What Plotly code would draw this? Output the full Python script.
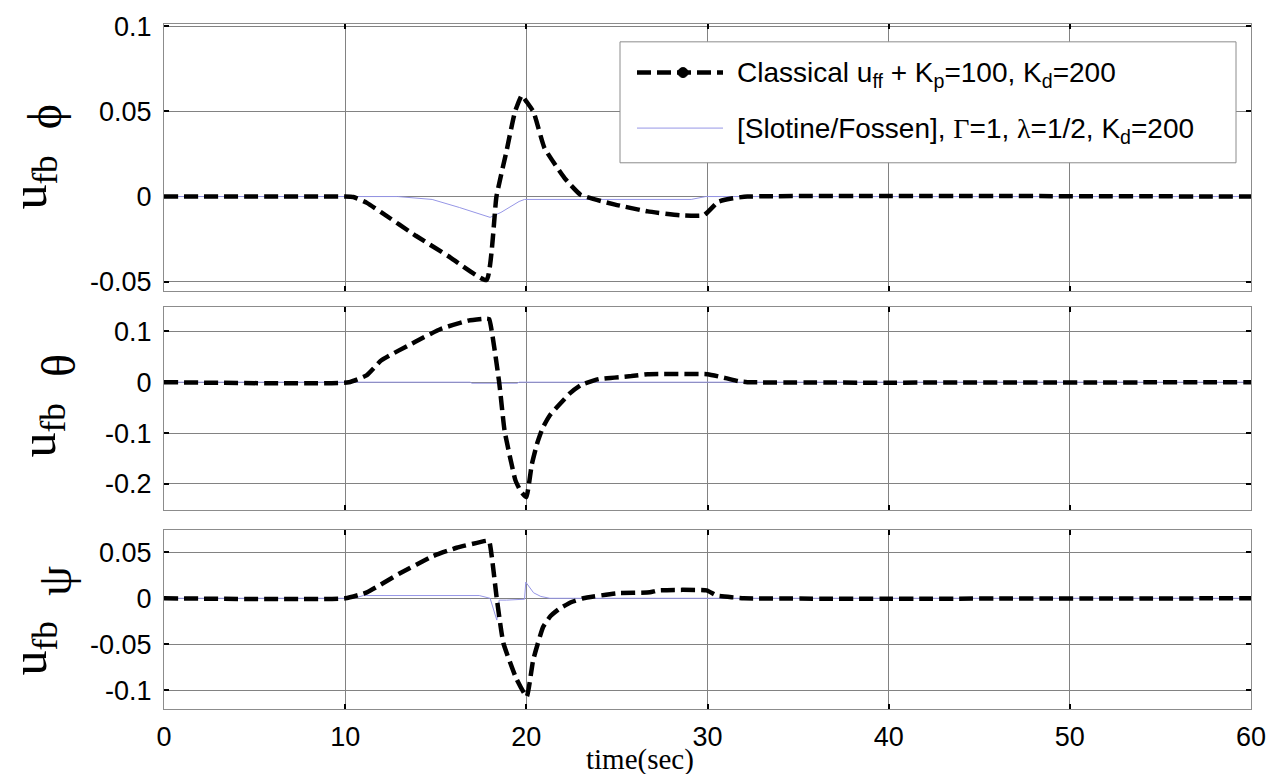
import plotly.graph_objects as go

# ---- time histories of the feedback control effort ----
# roll channel (phi)
t_phi_classical = [0, 10.0, 10.45, 11.2, 12.0, 13.9, 15.7, 17.8, 18.35, 18.9, 19.37, 19.75,
                   20.0, 20.4, 21.0, 22.1, 23.0, 24.9, 26.7, 28.5, 29.8, 30.6, 31.4, 32.2, 60]
u_phi_classical = [0, 0, -0.0003, -0.0037, -0.0093, -0.023, -0.035, -0.049, 0.0, 0.0264, 0.0496, 0.0593,
                   0.0558, 0.0496, 0.0285, 0.011, 0.001, -0.0047, -0.0087, -0.011, -0.011, -0.003, -0.001, 0, 0]
t_phi_slotine = [0, 12.9, 14.8, 16.3, 18.0, 18.6, 19.6, 19.9, 29.1, 29.9, 60]
u_phi_slotine = [0, 0, -0.0017, -0.0064, -0.0122, -0.0093, -0.0029, -0.0017, -0.0017, 0, 0]

# pitch channel (theta)
t_theta_classical = [0, 10.2, 11.2, 12.0, 13.9, 15.3, 16.8, 17.8, 17.95, 18.5, 18.8, 19.4, 19.7, 20.0,
                     20.3, 20.6, 20.9, 21.3, 21.8, 22.4, 23.0, 24.0, 25.8, 26.7, 30.0, 31.0, 31.7, 32.2, 60]
u_theta_classical = [0, 0, 0.014, 0.043, 0.080, 0.105, 0.121, 0.125, 0.124, 0.0, -0.0955, -0.193, -0.215, -0.226,
                     -0.162, -0.120, -0.090, -0.065, -0.045, -0.022, -0.006, 0.006, 0.012, 0.0156, 0.0156,
                     0.008, 0.002, 0, 0]
t_theta_slotine = [0, 16.9, 17.0, 19.5, 19.6, 60]
u_theta_slotine = [0, 0, -0.002, -0.002, 0, 0]

# yaw channel (psi)
t_psi_classical = [0, 10.0, 11.2, 13.0, 14.86, 16.15, 17.8, 17.95, 18.36, 18.73, 19.46, 20.02,
                   20.38, 20.93, 21.35, 21.85, 22.5, 23.14, 24.98, 26.82, 27.28, 29.95, 30.5, 31.42, 32.0, 60]
u_psi_classical = [0, 0, 0.0065, 0.027, 0.046, 0.055, 0.0626, 0.062, 0.001, -0.0485, -0.088, -0.107,
                   -0.067, -0.031, -0.019, -0.011, -0.004, 0, 0.0054, 0.0065, 0.0086, 0.0086, 0.003, 0.001, 0, 0]
t_psi_slotine = [0, 10.5, 11.0, 17.4, 18.0, 18.37, 18.5, 18.9, 19.9, 19.97, 20.4, 20.8, 21.3, 60]
u_psi_slotine = [0, 0, 0.003, 0.003, 0.0, -0.0237, -0.002, -0.002, -0.001, 0.0176, 0.006, 0.002, 0, 0]

# ---- axis ticks ----
x_ticks = [0, 10, 20, 30, 40, 50, 60]
x_ticktext = ["0", "10", "20", "30", "40", "50", "60"]
phi_ticks = [-0.05, 0, 0.05, 0.1]
phi_ticktext = ["-0.05", "0", "0.05", "0.1"]
theta_ticks = [-0.2, -0.1, 0, 0.1]
theta_ticktext = ["-0.2", "-0.1", "0", "0.1"]
psi_ticks = [-0.1, -0.05, 0, 0.05]
psi_ticktext = ["-0.1", "-0.05", "0", "0.05"]

SERIF = "Liberation Serif, Times New Roman, serif"
legend_classical = "Classical u<sub>ff</sub> + K<sub>p</sub>=100, K<sub>d</sub>=200"
legend_slotine = ('[Slotine/Fossen], <span style="font-family:Liberation Serif">Γ</span>=1, '
                  '<span style="font-family:Liberation Serif">λ</span>=1/2, K<sub>d</sub>=200')

# ---- page geometry ----
W, H = 1279, 774
ML, MR, MT, MB = 164, 28, 18, 65
PW, PH = W - ML - MR, H - MT - MB


def px_x(px):
    return (px - ML) / PW


def px_y(py):
    return (H - MB - py) / PH


BLACK_DASH = dict(color="black", width=4.5, dash="14px,6px")
SLOTINE = dict(color="rgb(150,150,230)", width=1)

fig = go.Figure()
panels = [
    ("x", "y", t_phi_classical, u_phi_classical, t_phi_slotine, u_phi_slotine),
    ("x2", "y2", t_theta_classical, u_theta_classical, t_theta_slotine, u_theta_slotine),
    ("x3", "y3", t_psi_classical, u_psi_classical, t_psi_slotine, u_psi_slotine),
]
for xa, ya, tc, uc, ts, us in panels:
    fig.add_trace(go.Scatter(x=ts, y=us, mode="lines", line=SLOTINE,
                             xaxis=xa, yaxis=ya, showlegend=False, hoverinfo="skip"))
    fig.add_trace(go.Scatter(x=tc, y=uc, mode="lines", line=BLACK_DASH, line_shape="spline",
                             line_smoothing=0.4,
                             xaxis=xa, yaxis=ya, showlegend=False, hoverinfo="skip"))

TICKFONT = dict(family="Liberation Sans, Arial, sans-serif", size=27, color="black")
GRID = "rgb(130,130,130)"
common_axis = dict(showgrid=True, gridcolor=GRID, gridwidth=1, zeroline=False,
                   showline=True, linecolor="rgb(140,140,140)", linewidth=1,
                   mirror="ticks", ticks="inside", ticklen=5, tickwidth=2,
                   tickcolor="black", tickfont=TICKFONT)

# panel domains in paper units (pixel rows of each box)
dom1 = [px_y(287), px_y(18)]
dom2 = [px_y(508), px_y(303)]
dom3 = [px_y(709), px_y(528)]

xaxis_common = dict(range=[0, 60], tickvals=x_ticks, ticktext=x_ticktext, domain=[0, 1], **common_axis)

fig.update_layout(
    width=W, height=H,
    margin=dict(l=ML, r=MR, t=MT, b=MB),
    paper_bgcolor="white", plot_bgcolor="white",
    showlegend=False,
    xaxis=dict(anchor="y", showticklabels=False, **xaxis_common),
    xaxis2=dict(anchor="y2", matches="x", showticklabels=False, **xaxis_common),
    xaxis3=dict(anchor="y3", matches="x", showticklabels=True, ticklabelstandoff=4, **xaxis_common),
    yaxis=dict(anchor="x", domain=dom1, range=[-0.0552, 0.1012],
               tickvals=phi_ticks, ticktext=phi_ticktext, ticklabelstandoff=6, **common_axis),
    yaxis2=dict(anchor="x2", domain=dom2, range=[-0.2507, 0.1487],
                tickvals=theta_ticks, ticktext=theta_ticktext, ticklabelstandoff=6, **common_axis),
    yaxis3=dict(anchor="x3", domain=dom3, range=[-0.1205, 0.0748],
                tickvals=psi_ticks, ticktext=psi_ticktext, ticklabelstandoff=6, **common_axis),
)

# ---- axis titles: "u_fb" and the channel's Greek letter ----
ylabels = [
    # (greek, u-box centre px, greek centre px)
    ("ϕ", (33, 178), (44, 112)),
    ("θ", (42, 428), (58, 363)),
    ("ψ", (33, 648), (54, 580)),
]
annotations = []
for greek, (ux, uy), (gx, gy) in ylabels:
    annotations.append(dict(text="u<sub>fb</sub>", xref="paper", yref="paper", x=px_x(ux), y=px_y(uy),
                            xanchor="center", yanchor="middle", textangle=-90, showarrow=False,
                            font=dict(family=SERIF, size=50, color="black")))
    annotations.append(dict(text=greek, xref="paper", yref="paper", x=px_x(gx), y=px_y(gy),
                            xanchor="center", yanchor="middle", textangle=-90, showarrow=False,
                            font=dict(family=SERIF, size=48, color="black")))
annotations.append(dict(text="time(sec)", xref="paper", yref="paper", x=px_x(640), y=px_y(760),
                        xanchor="center", yanchor="middle", showarrow=False,
                        font=dict(family=SERIF, size=29, color="black")))

# ---- legend box ----
LEGFONT = dict(family="Liberation Sans, Arial, sans-serif", size=28, color="black")
shapes = [
    dict(type="rect", xref="paper", yref="paper", x0=px_x(620), x1=px_x(1236),
         y0=px_y(158), y1=px_y(36), line=dict(color="rgb(140,140,140)", width=1),
         fillcolor="white", layer="above"),
    dict(type="line", xref="paper", yref="paper", x0=px_x(637), x1=px_x(723),
         y0=px_y(67), y1=px_y(67), line=BLACK_DASH, layer="above"),
    dict(type="circle", xref="paper", yref="paper", x0=px_x(678), x1=px_x(688),
         y0=px_y(72), y1=px_y(62), line=dict(color="black", width=1), fillcolor="black", layer="above"),
    dict(type="line", xref="paper", yref="paper", x0=px_x(637), x1=px_x(723),
         y0=px_y(123), y1=px_y(123), line=SLOTINE, layer="above"),
]
annotations.append(dict(text=legend_classical, xref="paper", yref="paper", x=px_x(735), y=px_y(69),
                        xanchor="left", yanchor="middle", showarrow=False, font=LEGFONT))
annotations.append(dict(text=legend_slotine, xref="paper", yref="paper", x=px_x(735), y=px_y(125),
                        xanchor="left", yanchor="middle", showarrow=False, font=LEGFONT))

fig.update_layout(annotations=annotations, shapes=shapes)

fig.write_html("out.html")
